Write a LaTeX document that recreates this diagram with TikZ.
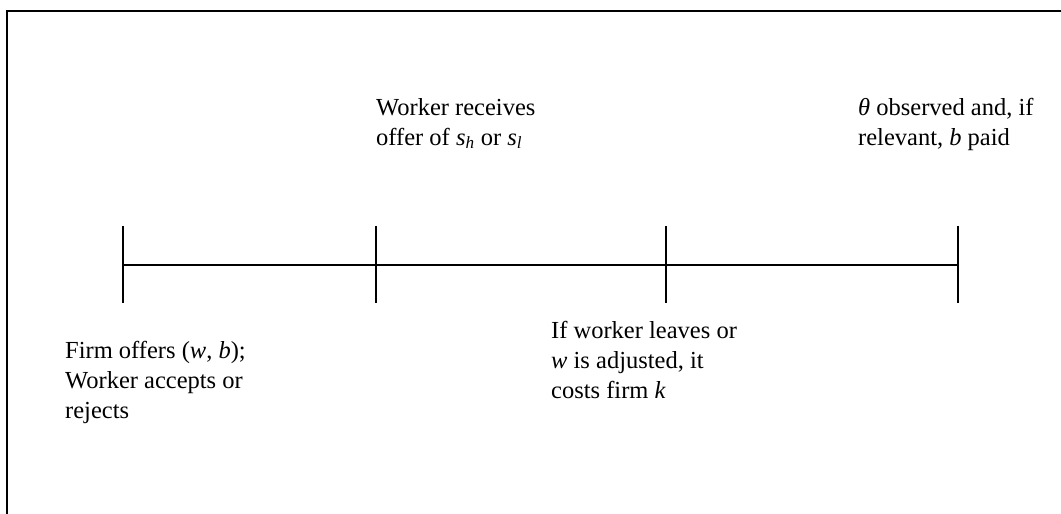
\documentclass[tikz,border=0pt]{standalone}
\usepackage{fontspec}
\setmainfont{Liberation Serif}
\usetikzlibrary{calc}
\tikzset{etiqueta/.style={anchor=north west, align=left, inner sep=0pt, font=\fontsize{24.5}{30}\selectfont}}

\begin{document}
\begin{tikzpicture}[x=1pt,y=1pt]
\useasboundingbox (0,0) rectangle (1061,514);
% Marco
\draw[line width=1.5pt] (7,0) -- (7,503) -- (1061,503);
% Eje temporal
\coordinate (t1) at (123,249);
\coordinate (t2) at (376,249);
\coordinate (t3) at (666,249);
\coordinate (t4) at (958,249);
\draw[line width=1.3pt] (t1) -- (t4);
% Marcas
\foreach \t in {t1,t2,t3,t4}
  \draw[line width=1.3pt] ($(\t)+(0,39)$) -- ($(\t)+(0,-38)$);
% Oferta de la firma
\node[etiqueta] (oferta) at (65,173) {Firm offers (\textit{w}, \textit{b});\\Worker accepts or\\rejects};
% Senal recibida
\node[etiqueta] (senal) at (376,416) {Worker receives\\offer of \textit{s}\textsubscript{\textit{h}} or \textit{s}\textsubscript{\textit{l}}};
% Costo k
\node[etiqueta] (costo) at (551,193) {If worker leaves or\\\textit{w} is adjusted, it\\costs firm \textit{k}};
% Theta observado
\node[etiqueta] (theta) at (858,416) {\textit{θ} observed and, if\\relevant, \textit{b} paid};
\end{tikzpicture}
\end{document}
